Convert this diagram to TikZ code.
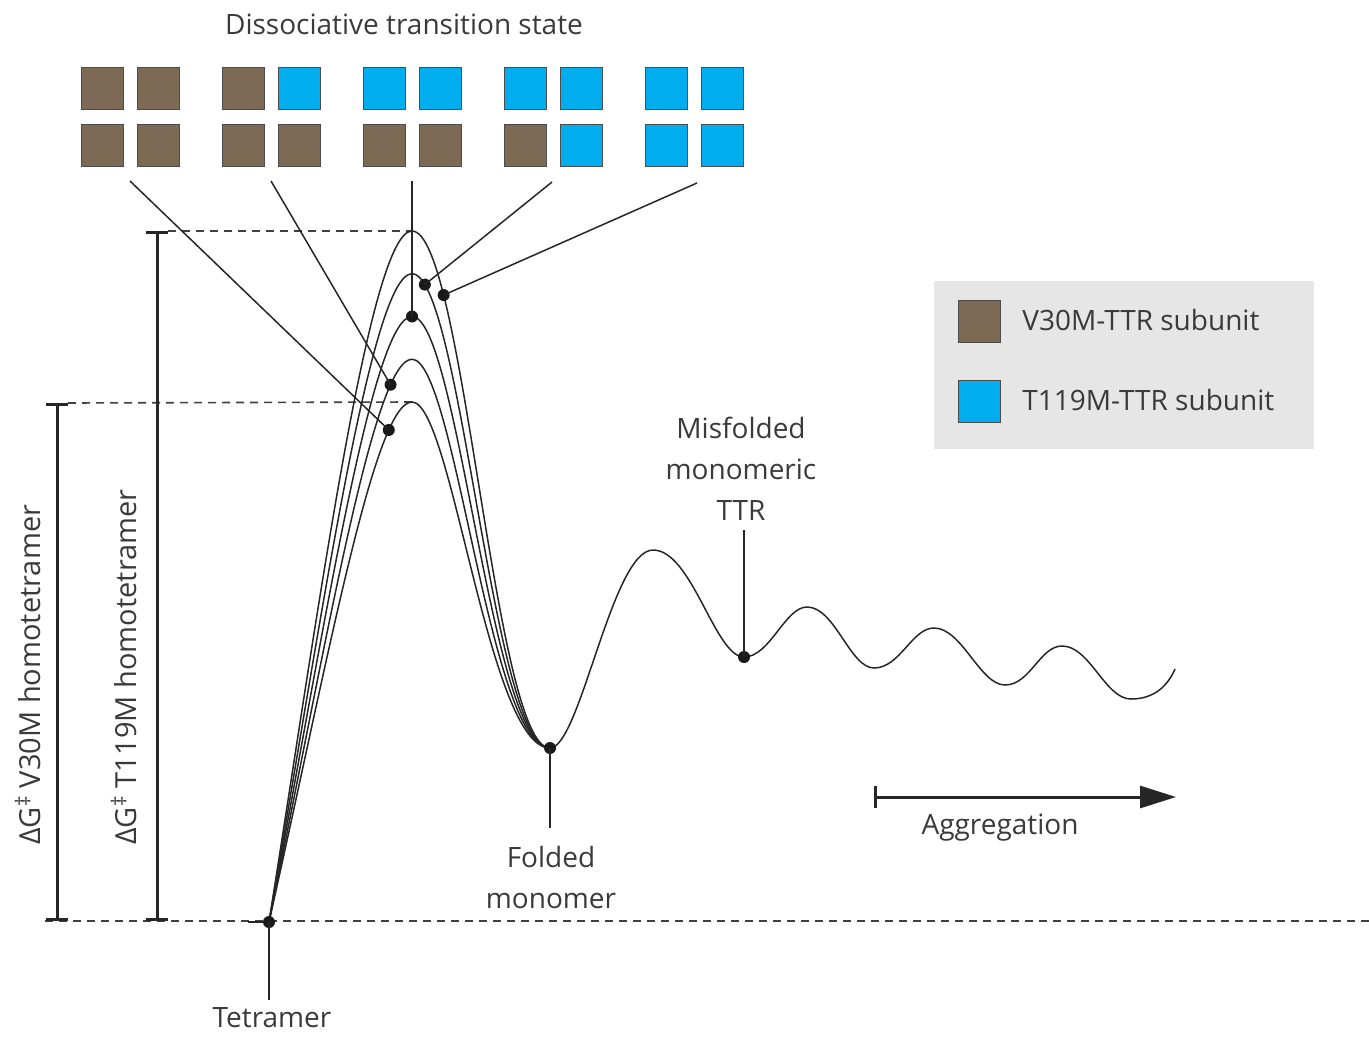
\documentclass[tikz,border=0pt]{standalone}
\usepackage{fontspec}
\setmainfont{Open Sans}
\usetikzlibrary{arrows.meta}
\definecolor{vbrown}{HTML}{7D6A55}
\definecolor{tblue}{HTML}{00AEEF}
\definecolor{txt}{HTML}{3A3A3A}
\definecolor{legbg}{HTML}{E6E6E6}
\begin{document}
\begin{tikzpicture}[x=0.5pt,y=-0.5pt,
  font=\fontsize{14}{20.5}\selectfont, text=txt,
  sq/.style={draw=black!70, line width=0.5pt, minimum size=21pt, inner sep=0pt, outer sep=0pt},
  vb/.style={sq, fill=vbrown},
  tb/.style={sq, fill=tblue},
  curve/.style={line width=0.75pt, draw=black!85},
  lead/.style={line width=0.75pt, draw=black!85},
  dot/.style={circle, fill=black!90, inner sep=0pt, minimum size=6pt},
  guide/.style={dash pattern=on 4pt off 3pt, line width=0.8pt, draw=black!75},
  bracket/.style={line width=1.5pt, draw=black!85, {Bar[width=11pt]}-{Bar[width=11pt]}},
  lbl/.style={align=center, inner sep=0pt},
  vlbl/.style={rotate=90, anchor=west, inner sep=0pt, font=\fontsize{14.5}{20}\selectfont},
  legbox/.style={fill=legbg, minimum width=190pt, minimum height=84pt, inner sep=0pt}
]
\useasboundingbox (0,0) rectangle (1369,1038);

% title
\node[lbl] (title) at (404,24) {Dissociative transition state};

% subunit groups
\node[vb] (g1a) at (102,89) {}; \node[vb] (g1b) at (158,89) {};
\node[vb] (g1c) at (102,145) {}; \node[vb] (g1d) at (158,145) {};
\node[vb] (g2a) at (243,89) {}; \node[tb] (g2b) at (299,89) {};
\node[vb] (g2c) at (243,145) {}; \node[vb] (g2d) at (299,145) {};
\node[tb] (g3a) at (384,89) {}; \node[tb] (g3b) at (440,89) {};
\node[vb] (g3c) at (384,145) {}; \node[vb] (g3d) at (440,145) {};
\node[tb] (g4a) at (525,89) {}; \node[tb] (g4b) at (581,89) {};
\node[vb] (g4c) at (525,145) {}; \node[tb] (g4d) at (581,145) {};
\node[tb] (g5a) at (666,89) {}; \node[tb] (g5b) at (722,89) {};
\node[tb] (g5c) at (666,145) {}; \node[tb] (g5d) at (722,145) {};

% lead start points
\coordinate (l1) at (130,181);
\coordinate (l2) at (271,181);
\coordinate (l3) at (412,181);
\coordinate (l4) at (552,182);
\coordinate (l5) at (697,183);

% key points
\coordinate (T) at (269,922);
\coordinate (F) at (550,748);
\coordinate (tail) at (248,922);

% baseline and guides
\coordinate (base0) at (45,921);
\coordinate (base1) at (1369,921);
\draw[guide] (base0) -- (base1);
\coordinate (v30top) at (57,403);
\coordinate (v30bot) at (57,921);
\coordinate (t119top) at (157,231);
\coordinate (t119bot) at (157,921);
\coordinate (pk1) at (412,402);
\coordinate (pk5) at (412,231);
\draw[guide] (68,403) -- (pk1);
\draw[guide] (168,231) -- (pk5);
\draw[bracket] (v30top) -- (v30bot);
\draw[bracket] (t119top) -- (t119bot);

% energy barriers
\draw[curve] (T) .. controls (330,650) and (375,402) .. (pk1) node[dot,pos=0.8] (d1) {}
  .. controls (452,402) and (488,748) .. (F);
\draw[curve] (T) .. controls (327.5,637.5) and (373.75,359.25) .. (412,359.25) node[dot,pos=0.82] (d2) {}
  .. controls (455,359.25) and (489.5,748) .. (F);
\draw[curve] (T) .. controls (325,625) and (372.5,316.5) .. (412,316.5) node[dot] (d3) {}
  .. controls (458,316.5) and (491,748) .. (F);
\draw[curve] (T) .. controls (322.5,612.5) and (371.25,273.75) .. (412,273.75)
  .. controls (461,273.75) and (492.5,748) .. (F) node[dot,pos=0.09] (d4) {};
\draw[curve] (T) .. controls (320,600) and (370,231) .. (pk5)
  .. controls (464,231) and (494,748) .. (F) node[dot,pos=0.22] (d5) {};
\draw[curve, line width=1.1pt] (tail) -- (T);

% leads from groups
\draw[lead] (l1) -- (d1.center);
\draw[lead] (l2) -- (d2.center);
\draw[lead] (l3) -- (d3.center);
\draw[lead] (l4) -- (d4.center);
\draw[lead] (l5) -- (d5.center);

% aggregation landscape
\coordinate (w1) at (653,550);
\coordinate (M) at (744,657);
\coordinate (w3) at (807,607);
\coordinate (w4) at (874,668);
\coordinate (w5) at (934,628);
\coordinate (w6) at (1005,685);
\coordinate (w7) at (1062,646);
\coordinate (w8) at (1131,699);
\coordinate (w9) at (1175,669);
\draw[curve] (F) .. controls (580,748) and (612,550) .. (w1)
  .. controls (692,550) and (715,657) .. (M)
  .. controls (770,657) and (785,607) .. (w3)
  .. controls (835,607) and (850,668) .. (w4)
  .. controls (900,668) and (912,628) .. (w5)
  .. controls (962,628) and (980,685) .. (w6)
  .. controls (1030,685) and (1040,646) .. (w7)
  .. controls (1090,646) and (1105,699) .. (w8)
  .. controls (1155,699) and (1168,685) .. (w9);

% state dots
\node[dot] (tdot) at (T) {};
\node[dot] (fdot) at (F) {};
\node[dot] (mdot) at (M) {};

% state labels
\node[lbl] (tet) at (272,1018) {Tetramer};
\node[lbl] (fold) at (551,877) {Folded\\monomer};
\node[lbl] (misf) at (741,469) {Misfolded\\monomeric\\TTR};
\draw[lead] (tdot.center) -- (tdot |- 0,1000);
\draw[lead] (fdot.center) -- (fdot |- 0,828);
\draw[lead] (mdot.center) -- (mdot |- 0,530);

% energy labels
\node[vlbl] (lv30) at (28,845) {ΔG\textsuperscript{‡} V30M homotetramer};
\node[vlbl] (lt119) at (124,845) {ΔG\textsuperscript{‡} T119M homotetramer};

% aggregation arrow
\coordinate (aggS) at (874,797);
\coordinate (aggE) at (1176,797);
\draw[line width=1.5pt, draw=black!85, {Bar[width=11pt]}-{Triangle[length=18pt,width=11pt]}] (aggS) -- (aggE);
\node[lbl] (agg) at (1000,828) {Aggregation};

% legend
\node[legbox] (legend) at (1124,365) {};
\node[vb] (legv) at (979,321.5) {};
\node[tb] (legt) at (979,401.5) {};
\node[anchor=west, inner sep=0pt] (legvt) at (1022,320) {V30M-TTR subunit};
\node[anchor=west, inner sep=0pt] (legtt) at (1022,400) {T119M-TTR subunit};
\end{tikzpicture}
\end{document}
